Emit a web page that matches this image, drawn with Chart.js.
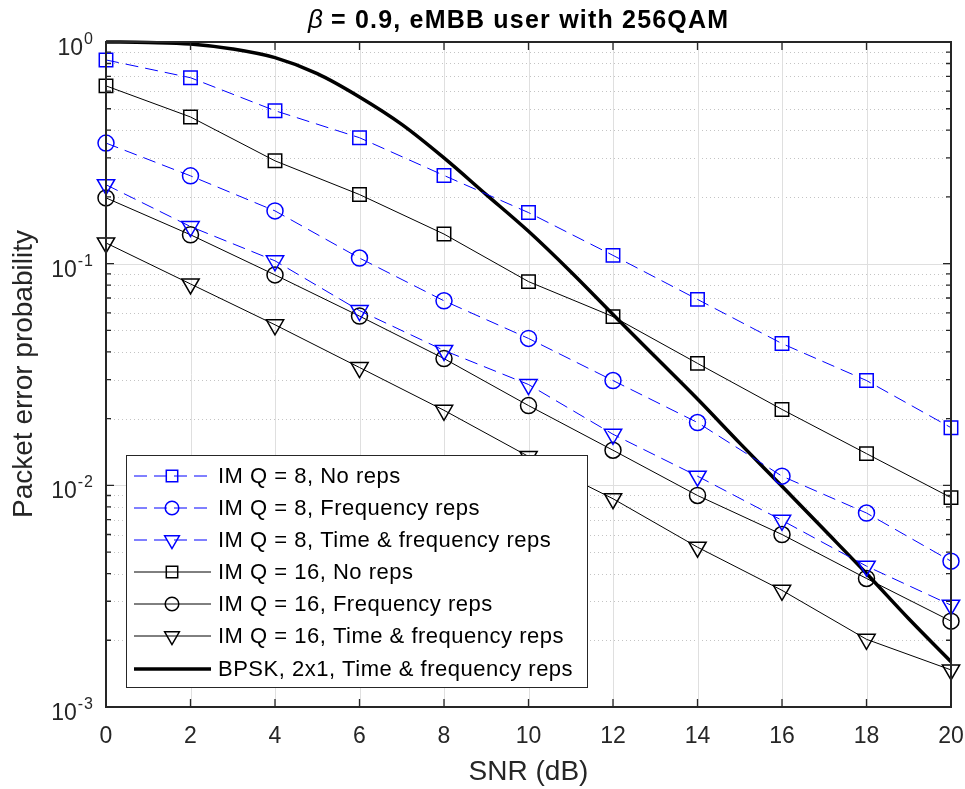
<!DOCTYPE html>
<html lang="en">
<head>
  <meta charset="UTF-8">
  <title>Packet error probability vs SNR</title>
  <script src="https://cdn.jsdelivr.net/npm/chart.js"></script>
  <style>
    html, body { margin: 0; padding: 0; background: #fff; }
    #wrap { width: 965px; height: 789px; position: relative; }
  </style>
</head>
<body>
  <div id="wrap"><canvas id="perChart"></canvas></div>
  <script>
    // SNR points (dB) for the IM curves
    const snr = [0, 2, 4, 6, 8, 10, 12, 14, 16, 18, 20];
    const q8NoReps = [0.83, 0.69, 0.49, 0.37, 0.25, 0.17, 0.109, 0.069, 0.0436, 0.0297, 0.0182];
    const q8FreqReps = [0.35, 0.249, 0.173, 0.106, 0.068, 0.046, 0.0297, 0.0192, 0.011, 0.0075, 0.00455];
    const q8TimeFreqReps = [0.227, 0.147, 0.103, 0.0614, 0.0406, 0.0285, 0.017, 0.011, 0.00695, 0.00432, 0.00288];
    const q16NoReps = [0.634, 0.459, 0.291, 0.205, 0.136, 0.083, 0.0577, 0.0355, 0.022, 0.0139, 0.0088];
    const q16FreqReps = [0.198, 0.135, 0.089, 0.058, 0.0373, 0.0229, 0.0144, 0.009, 0.006, 0.0038, 0.00244];
    const q16TimeFreqReps = [0.124, 0.081, 0.053, 0.034, 0.0218, 0.0135, 0.0087, 0.00526, 0.00336, 0.00202, 0.00147];
    // BPSK reference curve, read every 1 dB
    const bpskSnr = [0, 1, 2, 3, 4, 5, 6, 7, 8, 9, 10, 11, 12, 13, 14, 15, 16, 17, 18, 19, 20];
    const bpsk = [1.0, 0.995, 0.98, 0.93, 0.85, 0.72, 0.565, 0.425, 0.3, 0.205, 0.14, 0.092, 0.059, 0.038, 0.0245, 0.0155, 0.0099, 0.0063, 0.004, 0.0025, 0.0016];

    const xTicks = [0, 2, 4, 6, 8, 10, 12, 14, 16, 18, 20];
    const yTicks = [1e-3, 1e-2, 1e-1, 1];
    const yTickExp = ['-3', '-2', '-1', '0'];

    const seriesNames = [
      'IM Q = 8, No reps',
      'IM Q = 8, Frequency reps',
      'IM Q = 8, Time & frequency reps',
      'IM Q = 16, No reps',
      'IM Q = 16, Frequency reps',
      'IM Q = 16, Time & frequency reps',
      'BPSK, 2x1, Time & frequency reps'
    ];

    const BLUE = '#0000ff';
    const AXIS = '#262626';
    const FONT = '"Liberation Sans", Arial, sans-serif';

    function pts(xs, ys) {
      return xs.map((x, i) => ({ x: x, y: ys[i] }));
    }

    function imSet(label, ys, color, dashed, shape) {
      return {
        label: label,
        data: pts(snr, ys),
        borderColor: color,
        borderWidth: 1,
        borderDash: dashed ? [13, 7] : [],
        pointStyle: shape === 'tri' ? 'triangle' : shape,
        pointRotation: shape === 'tri' ? 180 : 0,
        pointRadius: shape === 'rect' ? 9.5 : (shape === 'tri' ? 10 : 8),
        pointBorderWidth: 1.5,
        pointBorderColor: color,
        pointBackgroundColor: 'rgba(0,0,0,0)',
        tension: 0,
        clip: false
      };
    }

    const datasets = [
      imSet(seriesNames[0], q8NoReps, BLUE, true, 'rect'),
      imSet(seriesNames[1], q8FreqReps, BLUE, true, 'circle'),
      imSet(seriesNames[2], q8TimeFreqReps, BLUE, true, 'tri'),
      imSet(seriesNames[3], q16NoReps, '#000', false, 'rect'),
      imSet(seriesNames[4], q16FreqReps, '#000', false, 'circle'),
      imSet(seriesNames[5], q16TimeFreqReps, '#000', false, 'tri'),
      {
        label: seriesNames[6],
        data: pts(bpskSnr, bpsk),
        borderColor: '#000',
        borderWidth: 3.5,
        pointRadius: 0,
        cubicInterpolationMode: 'monotone',
        clip: false
      }
    ];

    // grid, box, ticks, labels and legend drawn MATLAB-style
    const matlabAxes = {
      id: 'matlabAxes',
      beforeDatasetsDraw(chart) {
        const { ctx, chartArea: a, scales: { x, y } } = chart;
        ctx.save();
        ctx.lineWidth = 1;
        // minor dotted y grid
        ctx.strokeStyle = '#c4c4c4';
        ctx.setLineDash([1, 3]);
        for (let d = -3; d < 0; d++) {
          for (let k = 2; k <= 9; k++) {
            const py = Math.round(y.getPixelForValue(k * Math.pow(10, d))) + 0.5;
            ctx.beginPath(); ctx.moveTo(a.left, py); ctx.lineTo(a.right, py); ctx.stroke();
          }
        }
        // major grid
        ctx.setLineDash([]);
        ctx.strokeStyle = '#dfdfdf';
        yTicks.forEach(v => {
          const py = Math.round(y.getPixelForValue(v)) + 0.5;
          ctx.beginPath(); ctx.moveTo(a.left, py); ctx.lineTo(a.right, py); ctx.stroke();
        });
        xTicks.forEach(v => {
          const px = Math.round(x.getPixelForValue(v)) + 0.5;
          ctx.beginPath(); ctx.moveTo(px, a.top); ctx.lineTo(px, a.bottom); ctx.stroke();
        });
        ctx.restore();
      },
      afterDatasetsDraw(chart) {
        const { ctx, chartArea: a, scales: { x, y } } = chart;
        ctx.save();
        // box
        ctx.strokeStyle = AXIS;
        ctx.lineWidth = 2;
        ctx.strokeRect(a.left, a.top, a.right - a.left, a.bottom - a.top);
        // ticks inside
        ctx.lineWidth = 1.3;
        xTicks.forEach(v => {
          const px = x.getPixelForValue(v);
          ctx.beginPath();
          ctx.moveTo(px, a.bottom); ctx.lineTo(px, a.bottom - 8);
          ctx.moveTo(px, a.top); ctx.lineTo(px, a.top + 8);
          ctx.stroke();
        });
        for (let d = -3; d <= 0; d++) {
          for (let k = 1; k <= 9; k++) {
            if (d === 0 && k > 1) break;
            const py = y.getPixelForValue(k * Math.pow(10, d));
            const len = k === 1 ? 8 : 5;
            ctx.beginPath();
            ctx.moveTo(a.left, py); ctx.lineTo(a.left + len, py);
            ctx.moveTo(a.right, py); ctx.lineTo(a.right - len, py);
            ctx.stroke();
          }
        }
        // legend
        const lx = 126, ly = 455, lw = 461, lh = 232;
        ctx.fillStyle = '#fff';
        ctx.fillRect(lx, ly, lw, lh);
        ctx.strokeStyle = AXIS;
        ctx.lineWidth = 1;
        ctx.strokeRect(lx + 0.5, ly + 0.5, lw, lh);
        const rowY = [476, 508, 540, 572, 604, 636, 669];
        chart.data.datasets.forEach((ds, i) => {
          const cy = rowY[i];
          ctx.save();
          ctx.strokeStyle = ds.borderColor;
          ctx.lineWidth = ds.borderWidth;
          ctx.setLineDash(ds.borderDash || []);
          ctx.beginPath(); ctx.moveTo(134, cy); ctx.lineTo(211, cy); ctx.stroke();
          ctx.restore();
          if (ds.pointRadius > 0) {
            ctx.save();
            ctx.fillStyle = 'rgba(0,0,0,0)';
            ctx.strokeStyle = ds.pointBorderColor;
            ctx.lineWidth = ds.pointBorderWidth;
            Chart.helpers.drawPoint(ctx, {
              pointStyle: ds.pointStyle,
              rotation: ds.pointRotation,
              radius: ds.pointRadius * 0.85,
              borderWidth: ds.pointBorderWidth
            }, 172, cy);
            ctx.restore();
          }
          ctx.fillStyle = '#000';
          ctx.font = '22px ' + FONT;
          ctx.letterSpacing = '0.5px';
          ctx.textAlign = 'left';
          ctx.textBaseline = 'middle';
          ctx.fillText(ds.label, 218, cy + 1);
          ctx.letterSpacing = '0px';
        });
        ctx.restore();
      },
      afterDraw(chart) {
        const { ctx, chartArea: a, scales: { x, y } } = chart;
        ctx.save();
        ctx.fillStyle = AXIS;
        ctx.textBaseline = 'alphabetic';
        // x tick labels
        ctx.font = '23px ' + FONT;
        ctx.textAlign = 'center';
        xTicks.forEach(v => {
          ctx.fillText(String(v), x.getPixelForValue(v), a.bottom + 36);
        });
        // y tick labels 10^n
        ctx.textAlign = 'right';
        yTicks.forEach((v, i) => {
          const py = y.getPixelForValue(v);
          ctx.font = '16px ' + FONT;
          ctx.letterSpacing = '1px';
          const ew = ctx.measureText(yTickExp[i]).width;
          const right = 94;
          ctx.fillText(yTickExp[i], right, py + 2);
          ctx.letterSpacing = '0px';
          ctx.font = '23px ' + FONT;
          ctx.fillText('10', right - ew - 1, py + 13);
        });
        // axis titles
        ctx.font = '28px ' + FONT;
        ctx.textAlign = 'center';
        ctx.textBaseline = 'middle';
        ctx.fillText('SNR (dB)', (a.left + a.right) / 2, 772);
        ctx.save();
        ctx.translate(24, 374);
        ctx.rotate(-Math.PI / 2);
        ctx.fillText('Packet error probability', 0, 0);
        ctx.restore();
        // title with italic beta
        ctx.fillStyle = '#000';
        ctx.textBaseline = 'alphabetic';
        ctx.textAlign = 'left';
        const beta = '\u03B2';
        const rest = ' = 0.9, eMBB user with 256QAM';
        ctx.font = 'italic 26px ' + FONT;
        const bw = ctx.measureText(beta).width;
        const sx = 308;
        ctx.fillText(beta, sx, 28);
        ctx.font = 'bold 25px ' + FONT;
        ctx.letterSpacing = '1.2px';
        ctx.fillText(rest, sx + bw, 28);
        ctx.restore();
      }
    };

    new Chart(document.getElementById('perChart'), {
      type: 'line',
      data: { datasets: datasets },
      plugins: [matlabAxes],
      options: {
        responsive: true,
        maintainAspectRatio: false,
        animation: false,
        layout: { padding: { left: 0, right: 14, top: 42, bottom: 0 } },
        plugins: {
          legend: { display: false },
          title: { display: false },
          tooltip: { enabled: false }
        },
        scales: {
          x: {
            type: 'linear',
            min: 0,
            max: 20,
            afterBuildTicks: s => { s.ticks = xTicks.map(v => ({ value: v })); },
            afterFit: s => { s.height = 82; },
            grid: { display: false, drawTicks: false },
            border: { display: false },
            ticks: { display: false }
          },
          y: {
            type: 'logarithmic',
            min: 1e-3,
            max: 1,
            afterBuildTicks: s => { s.ticks = yTicks.map(v => ({ value: v })); },
            afterFit: s => { s.width = 106; },
            grid: { display: false, drawTicks: false },
            border: { display: false },
            ticks: { display: false }
          }
        }
      }
    });
  </script>
</body>
</html>
